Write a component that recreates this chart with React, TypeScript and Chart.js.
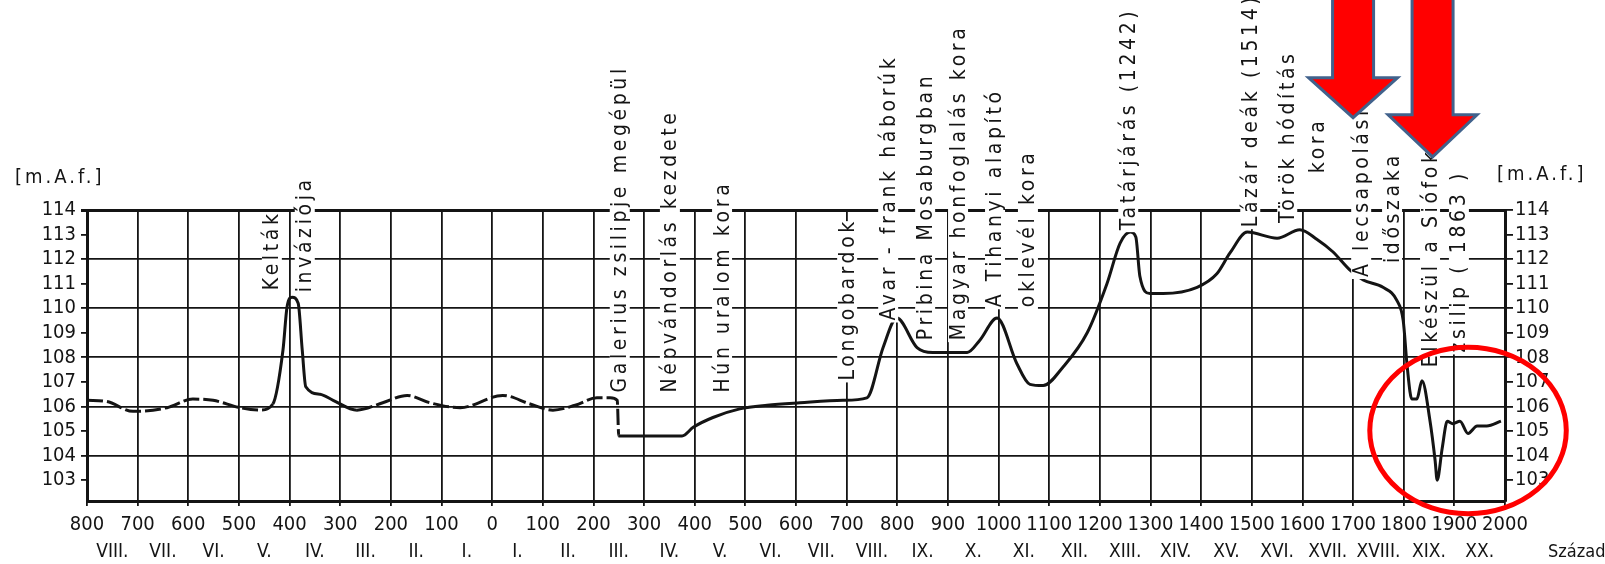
import { useEffect, useRef } from "react";
import { Chart, registerables } from "chart.js";

Chart.register(...registerables);

// ---- data ----
const years = [
  -800, -761, -709, -642, -591, -551, -498, -458, -433, -413, -405, -395, -383, -375, -368, -340,
  -314, -267, -216, -168, -123, -63, 21, 75, 120, 164, 207, 233, 247, 250, 375, 397, 436, 489, 543,
  608, 693, 740, 772, 799, 839, 870, 938, 963, 997, 1036, 1062, 1088, 1127, 1175, 1214, 1240, 1260,
  1271, 1279, 1299, 1325, 1392, 1431, 1457, 1491, 1550, 1595, 1629, 1660, 1694, 1720, 1759, 1787,
  1799, 1807, 1816, 1826, 1836, 1852, 1862, 1866, 1876, 1886, 1897, 1911, 1927, 1945, 1964, 1992,
];
const levels = [
  106.25, 106.2, 105.8, 105.95, 106.3, 106.25, 105.95, 105.85, 106.1, 108.3, 110.05, 110.45, 110.2,
  108.3, 106.8, 106.5, 106.25, 105.85, 106.15, 106.45, 106.15, 105.95, 106.45, 106.1, 105.85, 106.05,
  106.35, 106.35, 106.25, 104.8, 104.8, 105.15, 105.55, 105.9, 106.05, 106.15, 106.25, 106.35, 108.4,
  109.6, 108.4, 108.2, 108.2, 108.7, 109.6, 107.75, 106.9, 106.85, 107.6, 109.0, 111.0, 112.65, 113.1,
  112.9, 111.3, 110.6, 110.6, 110.85, 111.4, 112.25, 113.1, 112.85, 113.2, 112.8, 112.3, 111.55,
  111.15, 110.85, 110.3, 109.5, 107.6, 106.3, 106.3, 107.05, 105.4, 103.8, 103.0, 104.3, 105.4, 105.3,
  105.4, 104.9, 105.2, 105.2, 105.4,
];
// year spans drawn with a dashed line
const dashedFrom = [-800, -300];
const dashedTo = [-445, 248];

const xTickYears = [
  -800, -700, -600, -500, -400, -300, -200, -100, 0, 100, 200, 300, 400, 500, 600, 700, 800, 900,
  1000, 1100, 1200, 1300, 1400, 1500, 1600, 1700, 1800, 1900, 2000,
];
const xTickLabels = [
  "800", "700", "600", "500", "400", "300", "200", "100", "0", "100", "200", "300", "400", "500",
  "600", "700", "800", "900", "1000", "1100", "1200", "1300", "1400", "1500", "1600", "1700", "1800",
  "1900", "2000",
];
const centuryMidYears = [
  -750, -650, -550, -450, -350, -250, -150, -50, 50, 150, 250, 350, 450, 550, 650, 750, 850, 950,
  1050, 1150, 1250, 1350, 1450, 1550, 1650, 1750, 1850, 1950,
];
const centuryLabels = [
  "VIII.", "VII.", "VI.", "V.", "IV.", "III.", "II.", "I.", "I.", "II.", "III.", "IV.", "V.", "VI.",
  "VII.", "VIII.", "IX.", "X.", "XI.", "XII.", "XIII.", "XIV.", "XV.", "XVI.", "XVII.", "XVIII.",
  "XIX.", "XX.",
];
const yTickValues = [103, 104, 105, 106, 107, 108, 109, 110, 111, 112, 113, 114];
const yUnitLabel = "[m.A.f.]";
const centuryWord = "Század";

// vertical annotations: text, year of the column, level where the text starts
const noteTexts = [
  "Kelták", "inváziója", "Galerius zsilipje megépül", "Népvándorlás kezdete", "Hún uralom kora",
  "Longobardok", "Avar - frank háborúk", "Pribina Mosaburgban", "Magyar honfoglalás kora",
  "A Tihanyi alapító", "oklevél kora", "Tatárjárás (1242)", "Lázár deák (1514)", "Török hódítás",
  "kora", "A lecsapolási", "időszaka", "Elkészül a Siófoki", "zsilip ( 1863 )",
];
const noteYears = [
  -435, -370, 252, 351, 454, 701, 782, 855, 920, 993, 1058, 1256, 1497, 1570, 1629, 1716, 1777,
  1852, 1909,
];
const noteLevels = [
  110.73, 110.65, 106.57, 106.57, 106.57, 107.06, 109.5, 108.7, 108.7, 110.04, 110.04, 113.18,
  113.3, 113.47, 115.5, 111.27, 111.84, 107.6, 108.2,
];

// red overlay marks
const arrowYears = [1700, 1857];
const arrowTipLevels = [117.76, 116.16];
const arrowBaseLevels = [119.39, 117.88];
const circleYear = 1927;
const circleLevel = 105.02;
const circleHalfYears = 194;
const circleHalfLevels = 3.39;

// ---- styles ----
const INK = "#141414";
const FAMILY = '"DejaVu Sans Condensed", "DejaVu Sans", sans-serif';
const tickFont = { family: FAMILY, size: 20 };

function isDashed(year: number) {
  for (let i = 0; i < dashedFrom.length; i++) {
    if (year >= dashedFrom[i] && year < dashedTo[i]) return true;
  }
  return false;
}

const overlayPlugin = {
  id: "overlay",
  afterDatasetsDraw(chart: any) {
    const { ctx, scales } = chart;
    const xs = scales.x;
    const ys = scales.y;
    ctx.save();
    ctx.font = `21px ${FAMILY}`;
    (ctx as any).letterSpacing = "3.6px";
    ctx.textBaseline = "middle";
    ctx.textAlign = "left";
    for (let i = 0; i < noteTexts.length; i++) {
      const px = xs.getPixelForValue(noteYears[i]);
      const py = ys.getPixelForValue(noteLevels[i]);
      const w = ctx.measureText(noteTexts[i]).width;
      ctx.save();
      ctx.translate(px, py);
      ctx.rotate(-Math.PI / 2);
      ctx.fillStyle = "#ffffff";
      ctx.fillRect(-2, -10, w - 1, 20);
      ctx.fillStyle = INK;
      ctx.fillText(noteTexts[i], 0, 1);
      ctx.restore();
    }
    // unit labels
    ctx.font = `20px ${FAMILY}`;
    (ctx as any).letterSpacing = "3px";
    ctx.fillStyle = INK;
    ctx.textAlign = "left";
    ctx.fillText(yUnitLabel, chart.chartArea.left - 72, ys.getPixelForValue(115.3));
    ctx.fillText(yUnitLabel, chart.chartArea.right - 8, ys.getPixelForValue(115.45));
    // century word
    const x2 = scales.x2;
    ctx.font = `18px ${FAMILY}`;
    (ctx as any).letterSpacing = "0px";
    ctx.fillText(centuryWord, xs.getPixelForValue(2085), x2.top + 19);
    ctx.restore();
  },
  afterDraw(chart: any) {
    const { ctx, scales } = chart;
    const xs = scales.x;
    const ys = scales.y;
    ctx.save();
    // arrows
    for (let i = 0; i < arrowYears.length; i++) {
      const cx = xs.getPixelForValue(arrowYears[i]);
      const tip = ys.getPixelForValue(arrowTipLevels[i]);
      const base = ys.getPixelForValue(arrowBaseLevels[i]);
      const sw = 20.5;
      const hw = 44.5;
      ctx.beginPath();
      ctx.moveTo(cx - sw, -10);
      ctx.lineTo(cx - sw, base);
      ctx.lineTo(cx - hw, base);
      ctx.lineTo(cx, tip);
      ctx.lineTo(cx + hw, base);
      ctx.lineTo(cx + sw, base);
      ctx.lineTo(cx + sw, -10);
      ctx.closePath();
      ctx.fillStyle = "#ff0000";
      ctx.fill();
      ctx.lineWidth = 3;
      ctx.lineJoin = "miter";
      ctx.strokeStyle = "#41628c";
      ctx.stroke();
    }
    // circle
    const ccx = xs.getPixelForValue(circleYear);
    const ccy = ys.getPixelForValue(circleLevel);
    const rx = Math.abs(xs.getPixelForValue(circleYear + circleHalfYears) - ccx);
    const ry = Math.abs(ys.getPixelForValue(circleLevel + circleHalfLevels) - ccy);
    ctx.beginPath();
    ctx.ellipse(ccx, ccy, rx, ry, 0, 0, Math.PI * 2);
    ctx.lineWidth = 5;
    ctx.strokeStyle = "#ff0000";
    ctx.stroke();
    ctx.restore();
  },
};

export default function App() {
  const ref = useRef<HTMLCanvasElement>(null);

  useEffect(() => {
    const canvas = ref.current;
    if (!canvas) return;
    const points = years.map((y, i) => ({ x: y, y: levels[i] }));
    const chart = new Chart(canvas, {
      type: "line",
      data: {
        datasets: [
          {
            data: points,
            borderColor: INK,
            borderWidth: 3,
            pointRadius: 0,
            fill: false,
            cubicInterpolationMode: "monotone",
            segment: {
              borderDash: (c: any) => (isDashed(c.p0.parsed.x) ? [16, 4] : undefined),
            },
          },
        ],
      },
      options: {
        animation: false,
        responsive: false,
        devicePixelRatio: 1,
        layout: { padding: { top: 210, left: 0, right: 0, bottom: 0 } },
        plugins: { legend: { display: false }, tooltip: { enabled: false }, title: { display: false } },
        scales: {
          x: {
            type: "linear",
            position: "bottom",
            weight: 0,
            min: -800,
            max: 2000,
            afterBuildTicks: (s: any) => {
              s.ticks = xTickYears.map((v) => ({ value: v }));
            },
            afterFit: (s: any) => {
              s.height = 32;
            },
            grid: { color: INK, lineWidth: 1.8, tickLength: 5 },
            border: { display: true, color: INK, width: 3 },
            ticks: {
              autoSkip: false,
              maxRotation: 0,
              minRotation: 0,
              padding: 7,
              color: INK,
              font: tickFont,
              callback: (_v: any, i: number) => xTickLabels[i],
            },
          },
          x2: {
            type: "linear",
            position: "bottom",
            weight: 1,
            min: -800,
            max: 2000,
            afterBuildTicks: (s: any) => {
              s.ticks = centuryMidYears.map((v) => ({ value: v }));
            },
            afterFit: (s: any) => {
              s.height = 31;
            },
            grid: { display: false, drawTicks: false },
            border: { display: false },
            ticks: {
              autoSkip: false,
              maxRotation: 0,
              minRotation: 0,
              padding: 8,
              color: INK,
              font: { family: FAMILY, size: 19 },
              callback: (_v: any, i: number) => centuryLabels[i],
            },
          },
          y: {
            type: "linear",
            position: "left",
            min: 102.15,
            max: 114,
            afterBuildTicks: (s: any) => {
              s.ticks = yTickValues.map((v) => ({ value: v }));
            },
            afterFit: (s: any) => {
              s.width = 87;
            },
            grid: {
              color: (c: any) => (c.tick && c.tick.value % 2 === 0 ? INK : "rgba(0,0,0,0)"),
              tickColor: INK,
              lineWidth: (c: any) => (c.tick && c.tick.value === 114 ? 3 : 1.8),
              tickLength: 6,
            },
            border: { display: true, color: INK, width: 3 },
            ticks: {
              autoSkip: false,
              padding: 5,
              color: INK,
              font: tickFont,
              callback: (v: any) => String(v),
            },
          },
          y2: {
            type: "linear",
            position: "right",
            min: 102.15,
            max: 114,
            afterBuildTicks: (s: any) => {
              s.ticks = yTickValues.map((v) => ({ value: v }));
            },
            afterFit: (s: any) => {
              s.width = 100;
            },
            grid: { drawOnChartArea: false, color: INK, lineWidth: 1.8, tickLength: 8 },
            border: { display: true, color: INK, width: 3 },
            ticks: {
              autoSkip: false,
              padding: 2,
              color: INK,
              font: tickFont,
              callback: (v: any) => String(v),
            },
          },
        },
      } as any,
      plugins: [overlayPlugin],
    });
    return () => chart.destroy();
  }, []);

  return (
    <div style={{ position: "fixed", left: 0, top: 0, width: 1605, height: 564, background: "#ffffff" }}>
      <canvas ref={ref} width={1605} height={564} style={{ display: "block", width: 1605, height: 564 }} />
    </div>
  );
}
